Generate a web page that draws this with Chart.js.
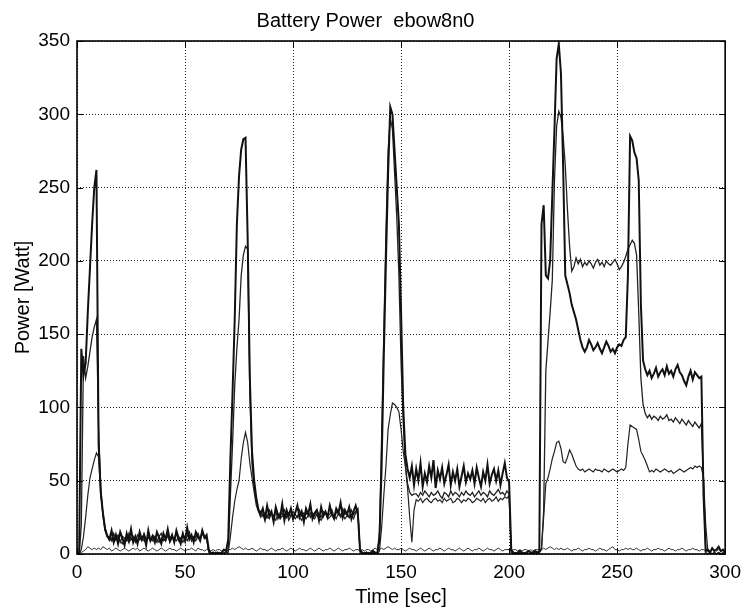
<!DOCTYPE html>
<html>
<head>
<meta charset="utf-8">
<title>Battery Power ebow8n0</title>
<script src="https://cdn.jsdelivr.net/npm/chart.js@4.4.1/dist/chart.umd.min.js"></script>
<style>
  html, body { margin: 0; padding: 0; background: #fff; }
  canvas { display: block; }
</style>
</head>
<body>
<canvas id="batteryChart" width="748" height="608"></canvas>
<script>
// Battery power traces, one sample per second from 0 to 300 s (Watt)
const mainPower = [
  0, 1, 140, 122, 130, 165, 195, 225, 250, 262,
  75, 42, 28, 17, 12, 10, 16, 8, 13, 7,
  15, 11, 6, 14, 9, 17, 8, 12, 7, 15,
  10, 13, 6, 16, 9, 12, 8, 15, 11, 7,
  14, 10, 17, 9, 13, 8, 16, 11, 7, 14,
  9, 18, 10, 13, 8, 15, 12, 9, 16, 11,
  13, 3, 0, 1, 0, 1, 0, 1, 3, 2,
  10, 65, 110, 160, 225, 258, 276, 283, 284, 215,
  120, 70, 50, 38, 30, 27, 31, 24, 33, 26,
  29, 22, 32, 27, 25, 34, 23, 30, 26, 31,
  24, 28, 33, 25, 29, 22, 31, 27, 34, 24,
  28, 30, 23, 32, 26, 29, 25, 33, 27, 24,
  31, 28, 35, 25, 30, 27, 32, 24, 29, 33,
  27, 3, 1, 0, 1, 0, 1, 2, 1, 0,
  10, 60, 135, 200, 260, 305, 300, 275, 250, 225,
  165, 100, 68, 58, 52, 60, 47, 58, 50, 62,
  46, 55, 49, 60, 52, 64, 45, 57, 51, 59,
  48, 54, 61, 47, 56, 50, 58, 46, 53, 60,
  49, 55, 51, 57, 48, 59, 52, 46, 56, 50,
  61, 48, 54, 58, 50, 57, 47, 55, 62, 52,
  49, 3, 1, 0, 1, 2, 1, 0, 1, 2,
  1, 1, 2, 1, 2, 225, 238, 190, 188, 200,
  245, 290, 338, 348, 328, 265, 190, 184, 178, 170,
  165, 160, 153, 146, 141, 138, 141, 146, 143, 139,
  141, 144, 140, 137, 141, 145, 142, 138, 140, 137,
  141, 143, 142, 146, 148, 190, 285, 282, 274, 270,
  255, 170, 132, 126, 122, 125, 120, 123, 127, 121,
  124, 126, 122, 128, 123, 125, 121, 126, 129, 124,
  122, 118, 115, 121, 125, 119, 124, 122, 120, 121,
  40, 2, 3, 1, 4, 2, 3, 5, 2, 3,
  1
];

const secondPower = [
  0, 0, 20, 135, 120, 128, 138, 148, 155, 160,
  85, 45, 26, 16, 12, 12, 9, 14, 10, 13,
  8, 12, 11, 9, 14, 10, 12, 8, 13, 11,
  9, 14, 10, 12, 9, 13, 11, 8, 12, 14,
  10, 9, 13, 11, 12, 10, 14, 9, 11, 13,
  10, 12, 15, 9, 12, 11, 14, 10, 16, 12,
  11, 2, 1, 0, 1, 0, 1, 0, 1, 1,
  3, 40, 75, 115, 140, 160, 190, 204, 210, 208,
  110, 62, 45, 36, 30, 29, 26, 28, 25, 30,
  27, 26, 29, 24, 28, 27, 30, 25, 28, 26,
  29, 27, 25, 30, 26, 28, 27, 29, 25, 28,
  26, 30, 27, 25, 29, 28, 26, 27, 30, 25,
  28, 29, 26, 31, 27, 28, 25, 30, 27, 29,
  31, 2, 0, 1, 0, 1, 0, 1, 0, 1,
  15, 80, 150, 220, 275, 297, 290, 260, 230, 190,
  130, 90, 60, 48, 42, 40, 41, 41, 39, 42,
  40, 43, 41, 39, 42, 40, 41, 43, 40, 38,
  42, 41, 39, 43, 40, 42, 41, 39, 42, 40,
  43, 41, 40, 42, 39, 41, 43, 40, 42, 41,
  39, 43, 41, 40, 42, 44, 41, 42, 40, 43,
  41, 1, 0, 1, 0, 1, 0, 0, 1, 0,
  1, 0, 1, 0, 1, 3, 30, 125, 145, 165,
  187, 255, 292, 302, 298, 285, 265, 235, 210, 193,
  196, 202, 198, 201, 196, 199, 197, 200, 198, 195,
  199, 201, 197, 199, 196, 200, 198, 197, 199, 201,
  198, 194, 196, 199, 203, 208, 211, 214, 212, 204,
  165, 120, 102, 96, 93, 95, 92, 94, 93, 91,
  94, 92, 93, 95, 91, 92, 90, 93, 91, 89,
  92, 90, 88, 91, 89, 87, 90, 88, 86, 89,
  50, 1, 0, 1, 0, 1, 0, 1, 0, 1,
  0
];

const thirdPower = [
  0, 0, 3, 12, 25, 40, 52, 58, 64, 69,
  66, 40, 28, 18, 13, 9, 11, 8, 10, 12,
  9, 7, 10, 11, 8, 10, 9, 11, 8, 10,
  12, 9, 8, 11, 10, 9, 12, 10, 8, 11,
  9, 10, 12, 8, 11, 10, 9, 12, 10, 8,
  11, 9, 13, 10, 11, 9, 12, 10, 14, 11,
  10, 1, 0, 1, 0, 0, 1, 0, 0, 1,
  1, 12, 25, 36, 44, 50, 65, 76, 83, 76,
  62, 52, 42, 33, 29, 25, 27, 23, 26, 24,
  28, 25, 23, 27, 24, 26, 25, 28, 23, 26,
  27, 24, 26, 25, 23, 27, 24, 26, 28, 25,
  24, 27, 25, 23, 26, 28, 24, 25, 27, 26,
  24, 28, 25, 27, 24, 26, 25, 27, 24, 28,
  30, 1, 0, 0, 1, 0, 0, 1, 0, 0,
  2, 18, 40, 60, 85, 95, 103, 102, 100, 97,
  85, 70, 60, 45, 25, 8, 30, 37, 36, 38,
  35, 37, 38, 36, 35, 37, 38, 36, 37, 35,
  38, 36, 37, 38, 35, 36, 38, 37, 35, 37,
  36, 38, 37, 35, 36, 38, 37, 36, 38, 35,
  37, 38, 36, 37, 39, 36, 38, 37, 39, 38,
  40, 1, 0, 0, 1, 0, 0, 1, 0, 0,
  0, 1, 0, 0, 1, 4, 25, 48, 52, 58,
  65, 70, 76, 77, 72, 63, 62, 66, 71, 68,
  64, 60, 58, 57, 58, 56, 57, 58, 57, 56,
  58, 57, 57, 56, 58, 57, 56, 57, 58, 57,
  56, 57, 58, 57, 59, 75, 88, 87, 86, 85,
  78, 70, 67, 64, 60, 56, 57, 56, 58, 57,
  56, 57, 58, 57, 56, 57, 55, 56, 57, 58,
  57, 56, 57, 58, 59, 58, 60, 59, 60, 59,
  52, 20, 2, 1, 0, 1, 0, 1, 0, 0,
  0
];

const idlePower = [
  0, 0, 1, 2, 3, 5, 4, 3, 4, 3,
  4, 3, 5, 4, 3, 4, 2, 3, 4, 3,
  2, 3, 4, 3, 2, 3, 4, 3, 4, 2,
  3, 4, 3, 2, 3, 4, 3, 2, 3, 4,
  3, 2, 3, 4, 3, 3, 2, 3, 4, 3,
  2, 3, 3, 4, 3, 2, 4, 3, 3, 2,
  3, 3, 2, 3, 2, 3, 3, 2, 3, 2,
  3, 3, 4, 3, 4, 5, 4, 3, 4, 3,
  3, 4, 3, 2, 3, 4, 3, 3, 2, 3,
  4, 3, 2, 3, 3, 4, 3, 2, 3, 4,
  3, 2, 3, 4, 3, 3, 2, 3, 4, 3,
  2, 3, 4, 3, 2, 3, 3, 4, 3, 2,
  3, 4, 3, 2, 3, 3, 4, 3, 2, 3,
  3, 2, 3, 2, 3, 3, 2, 3, 4, 3,
  3, 4, 3, 4, 5, 4, 3, 4, 3, 3,
  4, 3, 2, 3, 4, 3, 3, 2, 3, 4,
  3, 2, 3, 4, 3, 2, 3, 3, 4, 3,
  2, 3, 4, 3, 3, 2, 3, 4, 3, 2,
  3, 4, 3, 2, 3, 3, 4, 3, 2, 3,
  4, 3, 3, 2, 3, 4, 3, 2, 3, 3,
  3, 2, 3, 3, 2, 3, 2, 3, 3, 2,
  3, 2, 3, 3, 3, 3, 4, 3, 4, 5,
  4, 3, 4, 3, 4, 3, 3, 4, 3, 2,
  3, 3, 4, 3, 2, 3, 3, 4, 3, 3,
  2, 3, 4, 3, 3, 2, 3, 4, 5, 3,
  3, 2, 3, 3, 4, 3, 4, 3, 3, 4,
  3, 2, 3, 3, 4, 3, 2, 3, 3, 4,
  3, 3, 2, 3, 4, 3, 3, 2, 3, 3,
  4, 3, 2, 3, 3, 4, 3, 3, 2, 3,
  3, 2, 3, 2, 3, 3, 2, 3, 2, 3,
  2
];

// sample clock: 1 s steps
const timeSec = mainPower.map((_, i) => i);

const timeTicks = [0, 50, 100, 150, 200, 250, 300];
const powerTicks = [0, 50, 100, 150, 200, 250, 300, 350];

Chart.defaults.font.family = '"Liberation Sans", Arial, Helvetica, sans-serif';
Chart.defaults.color = '#000';

// solid frame round the plot plus short inward tick marks
const frameTicks = {
  id: 'frameTicks',
  afterDraw(chart) {
    const { ctx, chartArea: { left, right, top, bottom }, scales: { x, y } } = chart;
    ctx.save();
    ctx.strokeStyle = '#000';
    ctx.lineWidth = 1;
    ctx.beginPath();
    timeTicks.forEach(v => {
      const px = Math.round(x.getPixelForValue(v)) + 0.5;
      ctx.moveTo(px, bottom); ctx.lineTo(px, bottom - 6);
      ctx.moveTo(px, top); ctx.lineTo(px, top + 6);
    });
    powerTicks.forEach(v => {
      const py = Math.round(y.getPixelForValue(v)) + 0.5;
      ctx.moveTo(left, py); ctx.lineTo(left + 6, py);
      ctx.moveTo(right, py); ctx.lineTo(right - 6, py);
    });
    ctx.stroke();
    ctx.lineWidth = 1.6;
    ctx.strokeRect(left, top, right - left, bottom - top);
    ctx.restore();
  }
};

const traceStyle = (data, width, color) => ({
  data,
  borderColor: color,
  borderWidth: width,
  pointRadius: 0,
  tension: 0,
  fill: false
});

new Chart(document.getElementById('batteryChart'), {
  type: 'line',
  data: {
    labels: timeSec,
    datasets: [
      traceStyle(mainPower, 2, '#111'),
      traceStyle(secondPower, 1.3, '#222'),
      traceStyle(thirdPower, 1.2, '#222'),
      traceStyle(idlePower, 1, '#333')
    ]
  },
  options: {
    responsive: false,
    animation: false,
    layout: { padding: { top: 0, right: 17, bottom: 0, left: 0 } },
    plugins: {
      legend: { display: false },
      tooltip: { enabled: false },
      title: {
        display: true,
        text: 'Battery Power  ebow8n0',
        color: '#000',
        font: { size: 20, weight: 'normal', lineHeight: 1.2 },
        padding: { top: 9, bottom: 8 }
      }
    },
    scales: {
      x: {
        type: 'linear',
        min: 0,
        max: 300,
        afterBuildTicks: s => { s.ticks = timeTicks.map(v => ({ value: v })); },
        afterFit: s => { s.height = 54; },
        ticks: { font: { size: 19 }, padding: 7, maxRotation: 0, color: '#000' },
        grid: { color: '#222', lineWidth: 1, drawTicks: false },
        border: { display: false, dash: [1, 2] },
        title: {
          display: true,
          text: 'Time [sec]',
          color: '#000',
          font: { size: 20, lineHeight: 1.1 },
          padding: { top: 0, bottom: 0 }
        }
      },
      y: {
        min: 0,
        max: 350,
        afterBuildTicks: s => { s.ticks = powerTicks.map(v => ({ value: v })); },
        afterFit: s => { s.width = 77; },
        ticks: { font: { size: 19 }, padding: 7, color: '#000' },
        grid: { color: '#222', lineWidth: 1, drawTicks: false },
        border: { display: false, dash: [1, 2] },
        title: {
          display: true,
          text: 'Power [Watt]',
          color: '#000',
          font: { size: 20, lineHeight: 1.1 },
          padding: { top: 12, bottom: 0 }
        }
      }
    }
  },
  plugins: [frameTicks]
});
</script>
</body>
</html>
